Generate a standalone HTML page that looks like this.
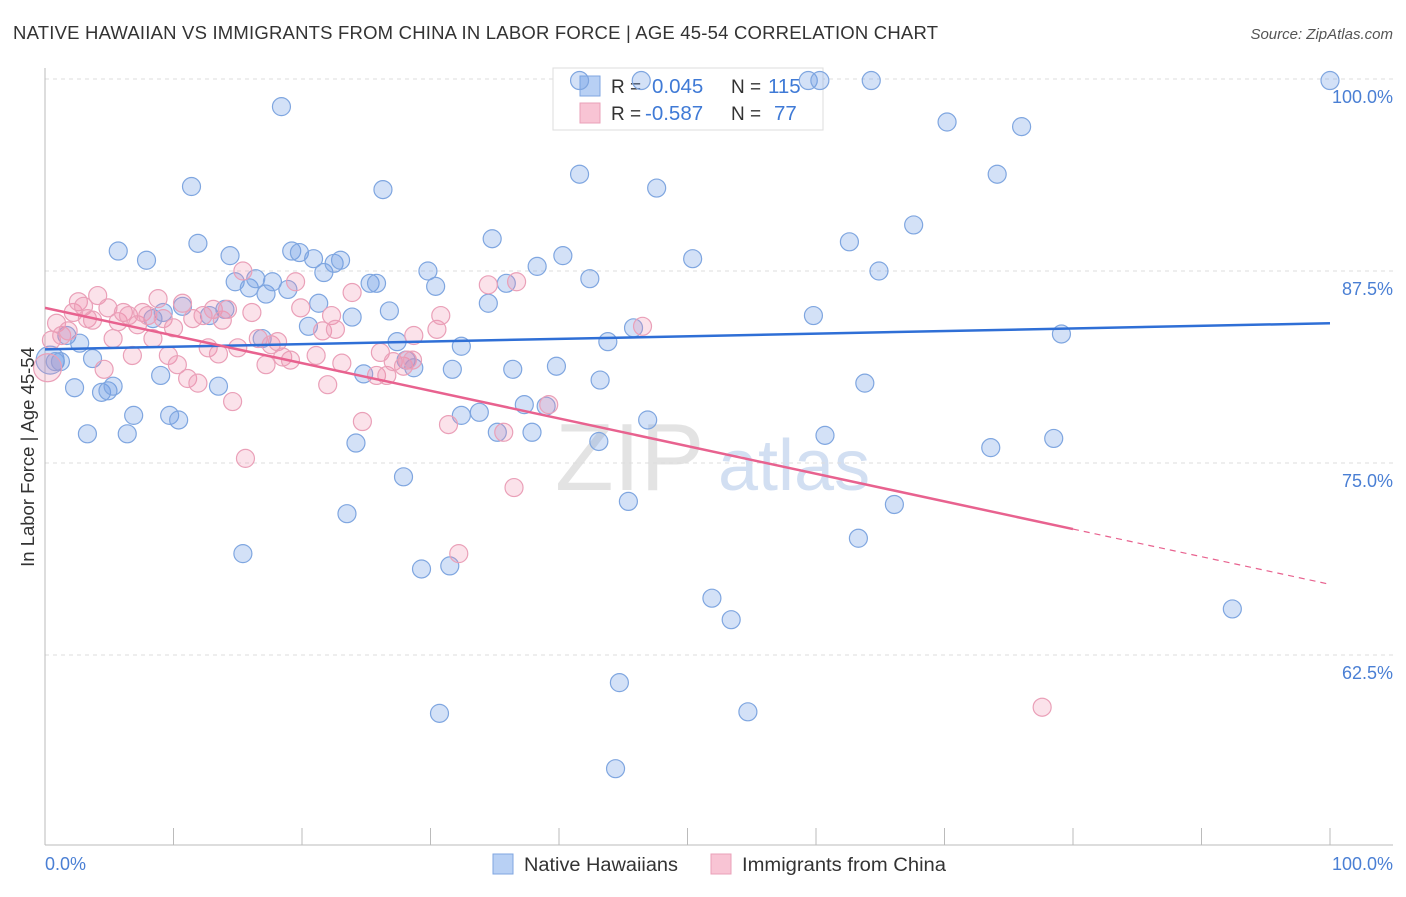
<!DOCTYPE html>
<html><head><meta charset="utf-8"><style>
body{margin:0;background:#fff;}
svg text{font-family:"Liberation Sans",sans-serif;}
</style></head><body>
<svg id="chart" width="1406" height="892" xmlns="http://www.w3.org/2000/svg">
<text x="13" y="39" font-size="18.5" fill="#333" textLength="925" lengthAdjust="spacing">NATIVE HAWAIIAN VS IMMIGRANTS FROM CHINA IN LABOR FORCE | AGE 45-54 CORRELATION CHART</text>
<text x="1393" y="39" font-size="15" fill="#555" text-anchor="end" font-style="italic">Source: ZipAtlas.com</text>
<g>
<text x="555" y="490" font-size="96" fill="#ddd" font-family="Liberation Serif,serif" opacity="0.8">ZIP</text>
<text x="718" y="490" font-size="72" fill="#c8d8f0" opacity="0.8">atlas</text>
</g>
<g id="grid"></g>
<g id="axes"></g>
<g>
<rect x="553" y="68" width="270" height="62" fill="#fff" stroke="#ddd"/>
<rect x="580" y="76" width="20" height="20" fill="#b8d0f4" stroke="#7fa6e0"/>
<text x="611" y="93" font-size="19" fill="#333">R = </text><text x="652" y="93" font-size="20.5" fill="#3f7ad6">0.045</text>
<text x="731" y="93" font-size="19" fill="#333">N = </text><text x="768" y="93" font-size="20.5" fill="#3f7ad6">115</text>
<rect x="580" y="103" width="20" height="20" fill="#f8c4d4" stroke="#eaa0b8"/>
<text x="611" y="120" font-size="19" fill="#333">R = </text><text x="645" y="120" font-size="20.5" fill="#3f7ad6">-0.587</text>
<text x="731" y="120" font-size="19" fill="#333">N = </text><text x="774" y="120" font-size="20.5" fill="#3f7ad6">77</text>
</g>
<g id="points"></g>
<g id="trends"></g>
<text transform="translate(34,457) rotate(-90)" font-size="18.5" fill="#333" text-anchor="middle">In Labor Force | Age 45-54</text>
<text x="45" y="870" font-size="18" fill="#4a7fd4">0.0%</text>
<text x="1393" y="870" font-size="18" fill="#4a7fd4" text-anchor="end">100.0%</text>
<g>
<rect x="493" y="854" width="20" height="20" fill="#b8d0f4" stroke="#7fa6e0"/>
<text x="524" y="871" font-size="19" fill="#333" textLength="154" lengthAdjust="spacingAndGlyphs">Native Hawaiians</text>
<rect x="711" y="854" width="20" height="20" fill="#f8c4d4" stroke="#eaa0b8"/>
<text x="742" y="871" font-size="19" fill="#333" textLength="204" lengthAdjust="spacingAndGlyphs">Immigrants from China</text>
</g>
</svg>
<script>
const yTicks=[100,87.5,75,62.5];
const yTickLabels=["100.0%","87.5%","75.0%","62.5%"];
const blueX=[0.4,0.8,1.2,1.7,2.3,2.7,3.3,3.7,4.4,4.9,5.3,5.7,6.4,6.9,7.9,8.4,9.0,9.2,9.7,10.4,10.7,11.4,11.9,12.8,13.5,14.0,14.4,14.8,15.4,15.9,16.4,16.9,17.2,17.7,18.4,18.9,19.2,19.8,20.5,20.9,21.3,21.7,22.5,23.0,23.5,23.9,24.2,24.8,25.3,25.8,26.3,26.8,27.4,27.9,28.1,28.7,29.3,29.8,30.4,30.7,31.5,31.7,32.4,32.4,33.8,34.5,34.8,35.2,35.9,36.4,37.3,37.9,38.3,39.0,39.8,40.3,41.6,42.4,43.2,43.1,43.8,44.4,44.7,45.4,45.8,46.4,46.9,47.6,50.4,51.9,53.4,54.7,59.8,59.4,60.3,60.7,62.6,63.3,63.8,64.3,64.9,66.1,67.6,70.2,73.6,74.1,76.0,78.5,79.1,92.4,100,41.6];
const blueY=[81.7,81.6,81.6,83.3,79.9,82.8,76.9,81.8,79.6,79.7,80.0,88.8,76.9,78.1,88.2,84.4,80.7,84.8,78.1,77.8,85.2,93.0,89.3,84.6,80.0,85.0,88.5,86.8,69.1,86.4,87.0,83.1,86.0,86.8,98.2,86.3,88.8,88.7,83.9,88.3,85.4,87.4,88.0,88.2,71.7,84.5,76.3,80.8,86.7,86.7,92.8,84.9,82.9,74.1,81.7,81.2,68.1,87.5,86.5,58.7,68.3,81.1,82.6,78.1,78.3,85.4,89.6,77.0,86.7,81.1,78.8,77.0,87.8,78.7,81.3,88.5,93.8,87.0,80.4,76.4,82.9,55.1,60.7,72.5,83.8,99.9,77.8,92.9,88.3,66.2,64.8,58.8,84.6,99.9,99.9,76.8,89.4,70.1,80.2,99.9,87.5,72.3,90.5,97.2,76.0,93.8,96.9,76.6,83.4,65.5,99.9,99.9];
const pinkX=[0.2,0.5,0.9,1.3,1.8,2.2,2.6,3.0,3.3,3.7,4.1,4.6,4.9,5.3,5.7,6.1,6.5,6.8,7.2,7.6,8.0,8.4,8.8,9.2,9.6,10.0,10.3,10.7,11.1,11.5,11.9,12.3,12.7,13.1,13.5,13.8,14.2,14.6,15.0,15.4,15.6,16.1,16.6,17.2,17.6,18.1,18.5,19.1,19.5,19.9,21.1,21.6,22.0,22.3,22.6,23.1,23.9,24.7,25.8,26.1,26.6,27.1,27.9,28.2,28.6,28.7,30.5,30.8,31.4,32.2,34.5,35.7,36.5,36.7,39.2,46.5,77.6];
const pinkY=[81.2,83.0,84.1,83.3,83.6,84.8,85.5,85.2,84.4,84.3,85.9,81.1,85.1,83.1,84.2,84.8,84.6,82.0,84.0,84.8,84.6,83.1,85.7,84.4,82.0,83.8,81.4,85.4,80.5,84.4,80.2,84.6,82.5,85.0,82.1,84.3,85.0,79.0,82.5,87.5,75.3,84.8,83.1,81.4,82.7,82.9,81.9,81.7,86.8,85.1,82.0,83.6,80.1,84.6,83.7,81.5,86.1,77.7,80.7,82.2,80.7,81.6,81.3,81.7,81.7,83.3,83.7,84.6,77.5,69.1,86.6,77.0,73.4,86.8,78.8,83.9,59.1];
const trendBlue=[82.4,84.1];
const trendPink=[85.1,67.1];
const pinkSolidEnd=80;

const NS="http://www.w3.org/2000/svg";
const X0=45,X1=1330,Y100=79,PX_PER=192/12.5;
function sx(v){return X0+(X1-X0)*v/100;}
function sy(v){return Y100+(100-v)*PX_PER;}
function mk(tag,attrs,parent){const e=document.createElementNS(NS,tag);for(const k in attrs)e.setAttribute(k,attrs[k]);parent.appendChild(e);return e;}
const grid=document.getElementById('grid');
yTicks.forEach((t,i)=>{
  const l=mk('line',{x1:45,x2:1393,y1:sy(t),y2:sy(t),stroke:'#ddd','stroke-dasharray':'4,4'},grid);
  
  
  const tx=mk('text',{x:1393,y:sy(t)+24,'font-size':18,fill:'#4a7fd4','text-anchor':'end'},grid);
  tx.textContent=yTickLabels[i];
  
  
});
const axes=document.getElementById('axes');
const ya=mk('line',{x1:45,x2:45,y1:68,y2:845,stroke:'#bbb'},axes);


const xa=mk('line',{x1:45,x2:1393,y1:845,y2:845,stroke:'#bbb'},axes);


for(let i=1;i<=10;i++){
  const t=mk('line',{x1:sx(i*10),x2:sx(i*10),y1:828,y2:845,stroke:'#bbb'},axes);
  
  
}
const pts=document.getElementById('points');
blueX.forEach((v,i)=>{
  const c=mk('circle',{cx:sx(v),cy:sy(blueY[i]),r:i===0?14:9,fill:'rgba(110,155,230,0.3)',stroke:'#7fa6e0','stroke-width':1.2},pts);
  
  
});
pinkX.forEach((v,i)=>{
  const c=mk('circle',{cx:sx(v),cy:sy(pinkY[i]),r:i===0?14:9,fill:'rgba(240,140,170,0.25)',stroke:'#eaa0b8','stroke-width':1.2},pts);
  
  
});
const tr=document.getElementById('trends');
const bl=mk('line',{x1:sx(0),y1:sy(trendBlue[0]),x2:sx(100),y2:sy(trendBlue[1]),stroke:'#2f6fd6','stroke-width':2.5},tr);


const pm=trendPink[0]+(trendPink[1]-trendPink[0])*pinkSolidEnd/100;
const pl=mk('line',{x1:sx(0),y1:sy(trendPink[0]),x2:sx(pinkSolidEnd),y2:sy(pm),stroke:'#e8628f','stroke-width':2.5},tr);


const pd=mk('line',{x1:sx(pinkSolidEnd),y1:sy(pm),x2:sx(100),y2:sy(trendPink[1]),stroke:'#e8628f','stroke-width':1.2,'stroke-dasharray':'6,5'},tr);


</script>
</body></html>
